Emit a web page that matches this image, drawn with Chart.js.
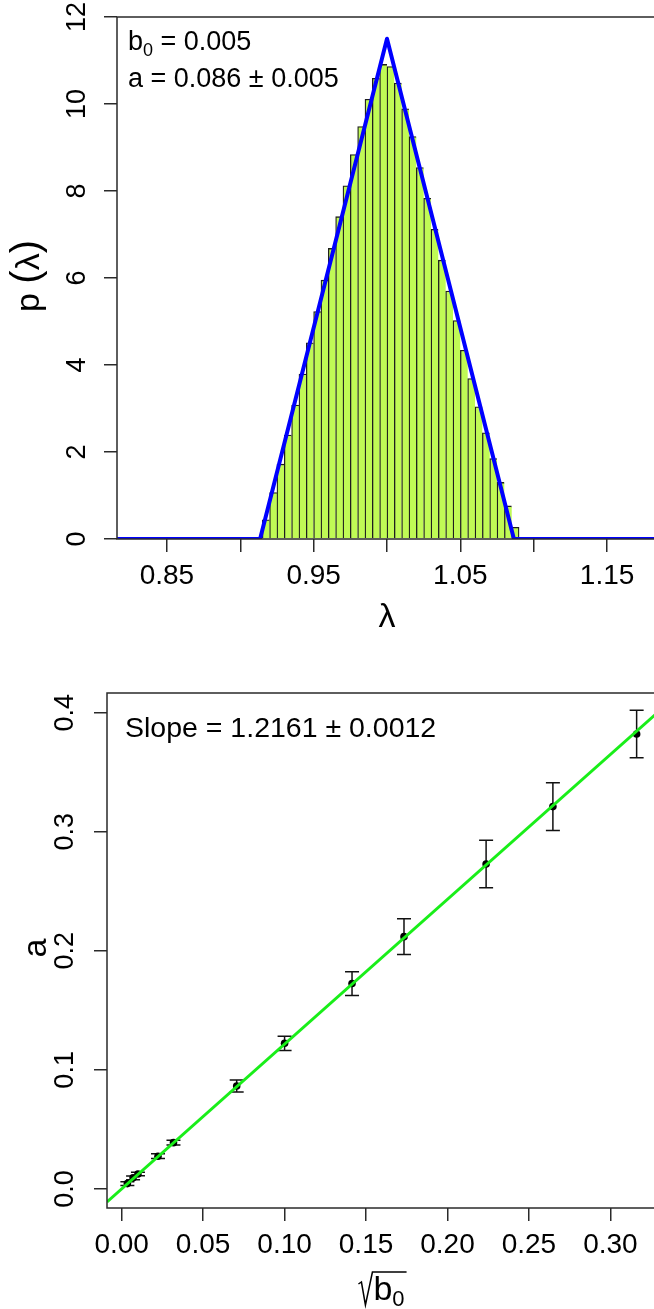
<!DOCTYPE html>
<html>
<head>
<meta charset="utf-8">
<title>lambda distribution and slope fit</title>
<script src="https://cdn.jsdelivr.net/npm/chart.js@4"></script>
<style>
  html, body { margin: 0; padding: 0; background: #fff; overflow: hidden; }
  #wrap { position: relative; width: 654px; height: 1309px; overflow: hidden; }
  canvas { position: absolute; left: 0; }
  #histChart { top: 0; }
  #slopeChart { top: 650px; }
</style>
</head>
<body>
<div id="wrap">
  <canvas id="histChart" width="657" height="650"></canvas>
  <canvas id="slopeChart" width="657" height="659"></canvas>
</div>
<script>
"use strict";

// --- histogram of lambda for b0 = 0.005 ---
const binLeft = 0.915;
const binWidth = 0.005;
const density = [
  0.44, 1.07, 1.72, 2.39, 3.08, 3.79, 4.51, 5.23, 5.95, 6.68,
  7.41, 8.12, 8.84, 9.48, 10.11, 10.59, 10.91, 10.86, 10.48, 9.89,
  9.25, 8.54, 7.83, 7.12, 6.41, 5.70, 5.02, 4.34, 3.69, 3.04,
  2.44, 1.85, 1.30, 0.76, 0.27,
];
// triangular density drawn over the bars
const curveX = [0.816, 0.9135, 1.0, 1.0865, 1.184];
const curveY = [0, 0, 11.5, 0, 0];
const histXTicks = [0.85, 0.9, 0.95, 1.0, 1.05, 1.1, 1.15];
const histXLabels = ["0.85", "", "0.95", "", "1.05", "", "1.15"];
const histYTicks = [0, 2, 4, 6, 8, 10, 12];
const histYLabels = ["0", "2", "4", "6", "8", "10", "12"];

// --- fitted a against sqrt(b0) ---
const sqrtB0 = [0.0035, 0.0070, 0.0100, 0.0223, 0.0318, 0.0706, 0.1000, 0.1414, 0.1733, 0.2237, 0.2647, 0.3161];
const aValues = [0.0045, 0.0093, 0.0125, 0.0275, 0.0389, 0.0865, 0.1223, 0.1725, 0.2119, 0.2729, 0.3211, 0.3821];
const aErrors = [0.0015, 0.0015, 0.0015, 0.0020, 0.0020, 0.0050, 0.0060, 0.0100, 0.0150, 0.0200, 0.0200, 0.0200];
const slope = 1.2161;
const slopeXTicks = [0, 0.05, 0.1, 0.15, 0.2, 0.25, 0.3];
const slopeXLabels = ["0.00", "0.05", "0.10", "0.15", "0.20", "0.25", "0.30"];
const slopeYTicks = [0, 0.1, 0.2, 0.3, 0.4];
const slopeYLabels = ["0.0", "0.1", "0.2", "0.3", "0.4"];

const family = "'Liberation Sans', Arial, Helvetica, sans-serif";
const axisColor = "#2a2a2a";
const tickFont = { family: family, size: 28, lineHeight: 1.2 };

function setTicks(values) {
  return function (scale) {
    scale.ticks = values.map(function (v) { return { value: v }; });
  };
}
function fixWidth(w) {
  return function (scale) { scale.width = w; };
}
function fixHeight(h) {
  return function (scale) { scale.height = h; };
}

function tickGrid() {
  return { drawOnChartArea: false, drawTicks: true, tickLength: 13, color: axisColor, lineWidth: 1.5, offset: false };
}

// R style frame around the plot region
function drawBox(chart) {
  const ca = chart.chartArea;
  const ctx = chart.ctx;
  ctx.save();
  ctx.strokeStyle = axisColor;
  ctx.lineWidth = 1.5;
  ctx.strokeRect(ca.left, ca.top, ca.right - ca.left, ca.bottom - ca.top);
  ctx.restore();
}

// y tick labels written along the axis (bottom to top)
function drawYLabels(chart, values, labels, x) {
  const ctx = chart.ctx;
  const y = chart.scales.y;
  ctx.save();
  ctx.fillStyle = "#000";
  ctx.font = "27px " + family;
  ctx.textAlign = "center";
  ctx.textBaseline = "middle";
  values.forEach(function (v, i) {
    ctx.save();
    ctx.translate(x, y.getPixelForValue(v));
    ctx.rotate(-Math.PI / 2);
    ctx.fillText(labels[i], 0, 0);
    ctx.restore();
  });
  ctx.restore();
}

// rotated text made of runs with their own font size; x is the baseline
function drawRotatedRuns(ctx, runs, x, cy) {
  ctx.save();
  ctx.translate(x, cy);
  ctx.rotate(-Math.PI / 2);
  ctx.fillStyle = "#000";
  ctx.textAlign = "left";
  ctx.textBaseline = "alphabetic";
  let total = 0;
  runs.forEach(function (r) {
    ctx.font = r[1] + "px " + family;
    total += ctx.measureText(r[0]).width;
  });
  let pos = -total / 2;
  runs.forEach(function (r) {
    ctx.font = r[1] + "px " + family;
    ctx.fillText(r[0], pos, 0);
    pos += ctx.measureText(r[0]).width;
  });
  ctx.restore();
}

// horizontal runs: [text, size, baseline shift]
function drawRuns(ctx, runs, x, base) {
  ctx.save();
  ctx.fillStyle = "#000";
  ctx.textAlign = "left";
  ctx.textBaseline = "alphabetic";
  let pos = x;
  runs.forEach(function (r) {
    ctx.font = r[1] + "px " + family;
    ctx.fillText(r[0], pos, base + (r[2] || 0));
    pos += ctx.measureText(r[0]).width;
  });
  ctx.restore();
}

const histDecor = {
  id: "histDecor",
  afterDraw: function (chart) {
    const ctx = chart.ctx;
    const ca = chart.chartArea;
    drawBox(chart);
    drawYLabels(chart, histYTicks, histYLabels, 77.5);

    drawRuns(ctx, [["b", 27], ["0", 18, 6], [" = 0.005", 27]], 128, 50);
    drawRuns(ctx, [["a = 0.086 \u00b1 0.005", 27]], 128, 87);

    ctx.save();
    ctx.fillStyle = "#000";
    ctx.font = "34px " + family;
    ctx.textAlign = "center";
    ctx.textBaseline = "alphabetic";
    ctx.fillText("\u03bb", (ca.left + ca.right) / 2, 627);
    ctx.restore();

    drawRotatedRuns(ctx, [["p", 34], [" ", 34], ["(", 40], ["\u03bb", 34], [")", 40]], 39, 276);
  },
};

const histChart = new Chart(document.getElementById("histChart"), {
  type: "bar",
  data: {
    datasets: [
      {
        type: "line",
        label: "density",
        data: curveX.map(function (x, i) { return { x: x, y: curveY[i] }; }),
        borderColor: "#0000ff",
        borderWidth: 4,
        borderJoinStyle: "round",
        pointRadius: 0,
        tension: 0,
        fill: false,
      },
      {
        type: "bar",
        label: "lambda",
        data: density.map(function (d, i) { return { x: binLeft + binWidth * (i + 0.5), y: d }; }),
        backgroundColor: "rgb(192, 250, 85)",
        borderColor: "#1e1e1e",
        borderSkipped: false,
        borderWidth: function (ctx) {
          const last = ctx.dataIndex === density.length - 1;
          return { top: 1.3, left: 1.3, right: last ? 1.3 : 0, bottom: 0 };
        },
        barPercentage: 1,
        categoryPercentage: 1,
      },
    ],
  },
  options: {
    responsive: false,
    animation: false,
    devicePixelRatio: 1,
    layout: { padding: { top: 17, left: 0, right: 0, bottom: 0 }, autoPadding: false },
    plugins: { legend: { display: false }, tooltip: { enabled: false } },
    scales: {
      x: {
        type: "linear",
        min: 0.816,
        max: 1.184,
        offset: false,
        afterBuildTicks: setTicks(histXTicks),
        afterFit: fixHeight(111),
        grid: tickGrid(),
        border: { display: false },
        ticks: {
          font: tickFont,
          color: "#000",
          padding: 7,
          maxRotation: 0,
          autoSkip: false,
          callback: function (v, i) { return histXLabels[i]; },
        },
      },
      y: {
        type: "linear",
        min: 0,
        max: 12,
        afterBuildTicks: setTicks(histYTicks),
        afterFit: fixWidth(117),
        grid: tickGrid(),
        border: { display: false },
        ticks: { display: false },
      },
    },
  },
  plugins: [histDecor],
});

// error bars under the points and the fitted line
const errorBars = {
  id: "errorBars",
  beforeDatasetsDraw: function (chart) {
    const ctx = chart.ctx;
    const xs = chart.scales.x;
    const ys = chart.scales.y;
    ctx.save();
    ctx.strokeStyle = "#111";
    ctx.lineWidth = 1.5;
    sqrtB0.forEach(function (x, i) {
      const px = xs.getPixelForValue(x);
      const top = ys.getPixelForValue(aValues[i] + aErrors[i]);
      const bot = ys.getPixelForValue(aValues[i] - aErrors[i]);
      ctx.beginPath();
      ctx.moveTo(px, top);
      ctx.lineTo(px, bot);
      ctx.moveTo(px - 7, top);
      ctx.lineTo(px + 7, top);
      ctx.moveTo(px - 7, bot);
      ctx.lineTo(px + 7, bot);
      ctx.stroke();
    });
    ctx.restore();
  },
};

const slopeDecor = {
  id: "slopeDecor",
  afterDraw: function (chart) {
    const ctx = chart.ctx;
    const ca = chart.chartArea;
    drawBox(chart);
    drawYLabels(chart, slopeYTicks, slopeYLabels, 66);

    drawRuns(ctx, [["Slope = 1.2161 \u00b1 0.0012", 28.5]], 125, 87);

    drawRotatedRuns(ctx, [["a", 34]], 46, 298);

    // x title: square root of b0
    const cx = (ca.left + ca.right) / 2;
    const base = 650;
    ctx.save();
    ctx.font = "34px " + family;
    const wb = ctx.measureText("b").width;
    ctx.font = "22px " + family;
    const w0 = ctx.measureText("0").width;
    const radW = 15;
    const total = radW + wb + w0 + 1;
    const x0 = cx - total / 2;
    ctx.strokeStyle = "#000";
    ctx.lineWidth = 1.5;
    ctx.beginPath();
    ctx.moveTo(x0, base - 16);
    ctx.lineTo(x0 + 3, base - 18);
    ctx.lineTo(x0 + 7, base + 5);
    ctx.lineTo(x0 + radW - 1, base - 28);
    ctx.lineTo(x0 + total + 1, base - 28);
    ctx.stroke();
    ctx.restore();
    drawRuns(ctx, [["b", 34], ["0", 22, 6]], x0 + radW, base);
  },
};

const fitX = [-0.009, 0.3286];

const slopeChart = new Chart(document.getElementById("slopeChart"), {
  type: "scatter",
  data: {
    datasets: [
      {
        type: "line",
        label: "fit",
        data: fitX.map(function (x) { return { x: x, y: slope * x }; }),
        borderColor: "rgb(25, 238, 25)",
        borderWidth: 3,
        pointRadius: 0,
        showLine: true,
        fill: false,
      },
      {
        type: "scatter",
        label: "a",
        data: sqrtB0.map(function (x, i) { return { x: x, y: aValues[i] }; }),
        backgroundColor: "#000",
        borderWidth: 0,
        pointRadius: 3.8,
      },
    ],
  },
  options: {
    responsive: false,
    animation: false,
    devicePixelRatio: 1,
    layout: { padding: { top: 43, left: 0, right: 0, bottom: 0 }, autoPadding: false },
    plugins: { legend: { display: false }, tooltip: { enabled: false } },
    scales: {
      x: {
        type: "linear",
        min: -0.009,
        max: 0.3286,
        afterBuildTicks: setTicks(slopeXTicks),
        afterFit: fixHeight(101),
        grid: tickGrid(),
        border: { display: false },
        ticks: {
          font: tickFont,
          color: "#000",
          padding: 7,
          maxRotation: 0,
          autoSkip: false,
          callback: function (v, i) { return slopeXLabels[i]; },
        },
      },
      y: {
        type: "linear",
        min: -0.016,
        max: 0.4165,
        afterBuildTicks: setTicks(slopeYTicks),
        afterFit: fixWidth(107),
        grid: tickGrid(),
        border: { display: false },
        ticks: { display: false },
      },
    },
  },
  plugins: [errorBars, slopeDecor],
});
</script>
</body>
</html>
